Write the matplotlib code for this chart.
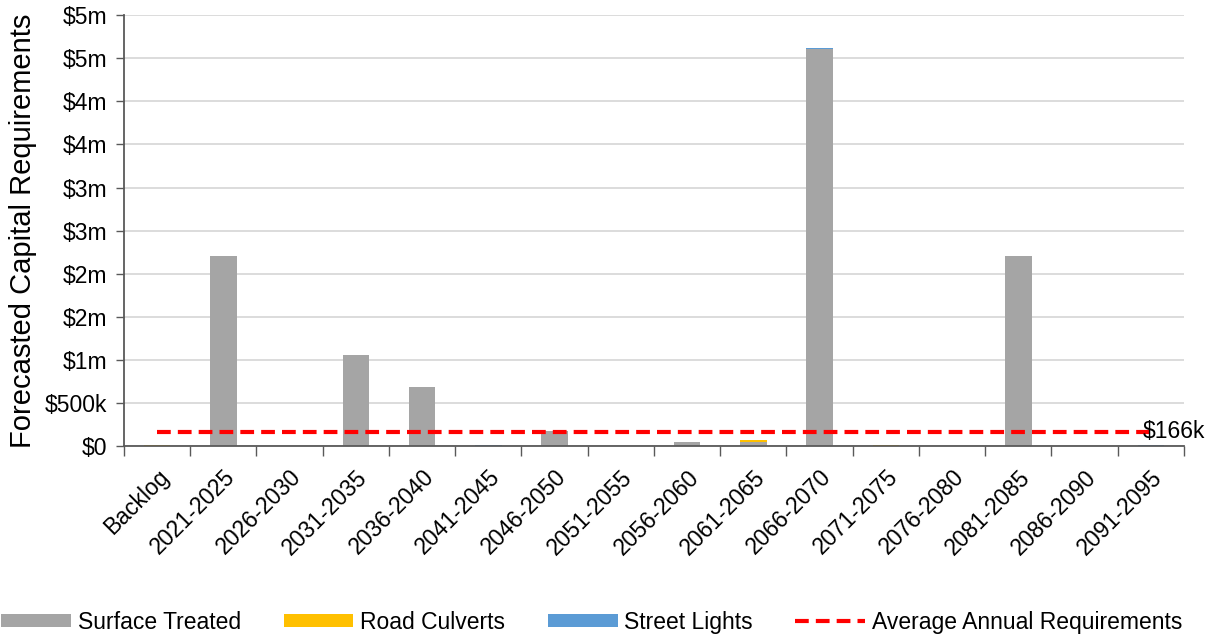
import numpy as np
import matplotlib
matplotlib.use('Agg')
import matplotlib.pyplot as plt
from matplotlib.ticker import FuncFormatter, MultipleLocator

plt.rcParams['font.family'] = ['Liberation Sans', 'DejaVu Sans']

# forecast periods and capital needs per asset class ($)
periods = ['Backlog', '2021-2025', '2026-2030', '2031-2035', '2036-2040',
           '2041-2045', '2046-2050', '2051-2055', '2056-2060', '2061-2065',
           '2066-2070', '2071-2075', '2076-2080', '2081-2085', '2086-2090',
           '2091-2095']
surface_treated = [0, 2200000, 0, 1056000, 685000, 0, 175000, 0, 50000, 50000,
                   4610000, 0, 0, 2200000, 0, 0]
road_culverts = [12000, 0, 0, 0, 0, 0, 0, 0, 0, 20000, 0, 10000, 0, 0, 0, 0]
street_lights = [0, 0, 0, 0, 0, 8000, 0, 0, 0, 0, 12000, 0, 0, 0, 0, 8000]
avg_annual = 166000

x = np.arange(len(periods))
surface = np.array(surface_treated)
culverts = np.array(road_culverts)
lights = np.array(street_lights)

fs = 16.5

fig = plt.figure(figsize=(12.08, 6.34), dpi=100)
ax = fig.add_axes([0.1026, 0.2965, 0.8775, 0.6795])

w = 0.4
b1 = ax.bar(x, surface, w, color='#A5A5A5', label='Surface Treated', zorder=2)
b2 = ax.bar(x, culverts, w, bottom=surface, color='#FFC000', label='Road Culverts', zorder=2)
b3 = ax.bar(x, lights, w, bottom=surface + culverts, color='#5B9BD5', label='Street Lights', zorder=2)
ln, = ax.plot([x[0], x[-1]], [avg_annual, avg_annual], color='#FF0000', lw=3,
              dashes=(3.3, 1.7), label='Average Annual Requirements', zorder=3)
ax.text(x[-1] - 0.12, avg_annual, '$%dk' % round(avg_annual / 1000),
        ha='left', va='center', fontsize=fs, color='#000000', zorder=4)

def money(v, pos):
    if v == 0:
        return '$0'
    if v < 1e6:
        return '$%dk' % int(v / 1000 + 0.5)
    return '$%dm' % int(v / 1e6 + 0.5)

ax.set_ylim(0, 5000000)
ax.yaxis.set_major_locator(MultipleLocator(500000))
ax.yaxis.set_major_formatter(FuncFormatter(money))
ax.set_xlim(-0.5, len(periods) - 0.5)
ax.set_xticks(x)
ax.set_xticklabels(periods, rotation=45, ha='right', rotation_mode='anchor', fontsize=fs)
ax.set_xticks(np.arange(len(periods) + 1) - 0.5, minor=True)
ax.tick_params(axis='x', which='major', length=0, pad=14)
ax.tick_params(axis='x', which='minor', length=7, width=1, color='#595959')
ax.tick_params(axis='y', length=6, width=1, color='#595959', labelsize=fs, pad=6)

ax.grid(axis='y', color='#D9D9D9', lw=1.3, zorder=0)
ax.set_axisbelow(True)
for s in ['top', 'right']:
    ax.spines[s].set_visible(False)
for s in ['left', 'bottom']:
    ax.spines[s].set_color('#595959')
    ax.spines[s].set_linewidth(1.3)

ax.set_ylabel('Forecasted Capital Requirements', fontsize=21, labelpad=6)

fig.legend([b1, b2, b3, ln],
           ['Surface Treated', 'Road Culverts', 'Street Lights', 'Average Annual Requirements'],
           loc='lower center', bbox_to_anchor=(0.49, -0.032), ncol=4,
           frameon=False, fontsize=fs, handlelength=3.05, handleheight=0.55,
           columnspacing=1.85, handletextpad=0.3)

fig.savefig('out.png', dpi=100)
